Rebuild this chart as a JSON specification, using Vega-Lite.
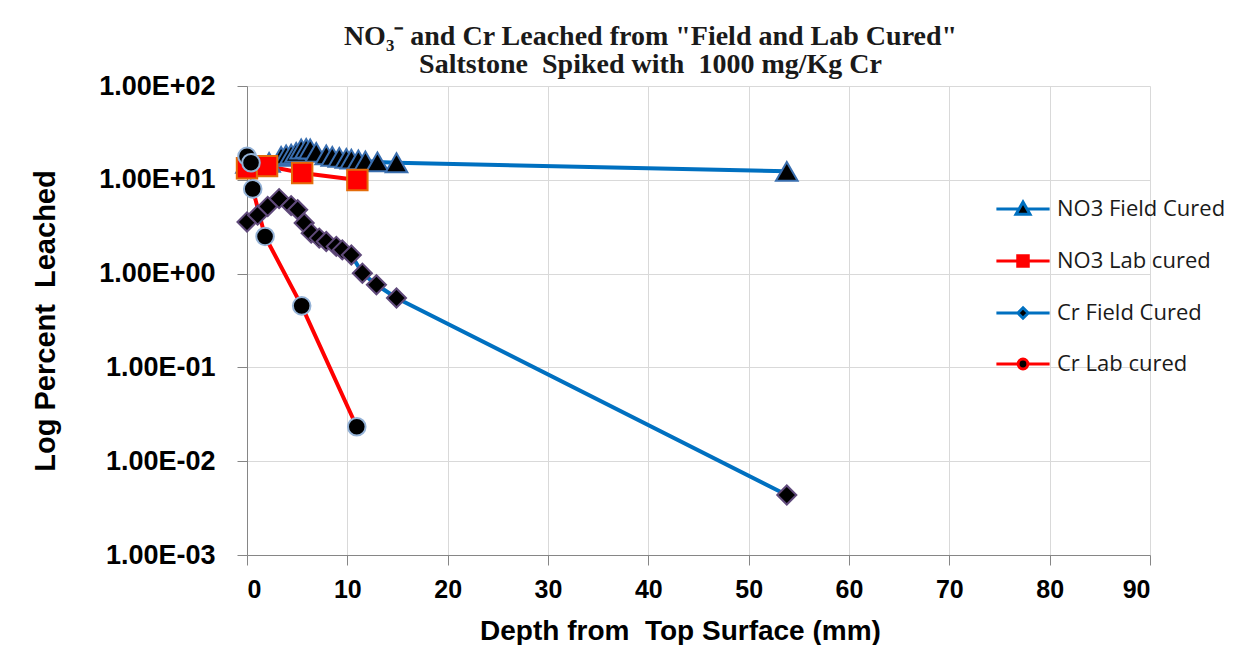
{
  "$schema": "https://vega.github.io/schema/vega-lite/v6.json",
  "autosize": "none",
  "width": 903,
  "height": 469,
  "padding": {"left": 247, "top": 86, "right": 98, "bottom": 90},
  "background": "white",
  "config": {
    "view": {"stroke": null},
    "axis": {
      "domainColor": "#868686",
      "tickColor": "#868686",
      "gridColor": "#D9D9D9",
      "gridWidth": 1,
      "tickSize": 10,
      "labelColor": "black",
      "titleColor": "black",
      "labelFont": "Liberation Sans",
      "titleFont": "Liberation Sans",
      "labelFontWeight": "bold",
      "titleFontWeight": "bold"
    },
    "legend": {
      "orient": "none",
      "legendX": 765,
      "legendY": 112,
      "padding": 0,
      "labelFont": "Open Sans",
      "labelFontSize": 22,
      "labelColor": "#1a1a1a",
      "labelLimit": 400,
      "symbolSize": 196,
      "symbolStrokeWidth": 3,
      "labelOffset": 23,
      "rowPadding": 28
    }
  },
  "title": {
    "text": ["NO₃⁻ and Cr Leached from \"Field and Lab Cured\"", "Saltstone\u00a0 Spiked with\u00a0 1000 mg/Kg Cr"],
    "font": "Liberation Serif",
    "fontSize": 28,
    "fontWeight": "bold",
    "color": "#1a1a1a",
    "lineHeight": 28,
    "anchor": "middle",
    "dx": -48,
    "offset": -7
  },
  "data": {
    "values": [
      {"series": "NO3 Field Cured", "depth": 0, "pct": 15.0},
      {"series": "NO3 Field Cured", "depth": 2.2, "pct": 15.3},
      {"series": "NO3 Field Cured", "depth": 3.4, "pct": 17.8},
      {"series": "NO3 Field Cured", "depth": 3.9, "pct": 18.4},
      {"series": "NO3 Field Cured", "depth": 4.4, "pct": 18.8},
      {"series": "NO3 Field Cured", "depth": 4.9, "pct": 19.6},
      {"series": "NO3 Field Cured", "depth": 5.4, "pct": 21.3},
      {"series": "NO3 Field Cured", "depth": 5.9, "pct": 21.6},
      {"series": "NO3 Field Cured", "depth": 6.3, "pct": 21.3},
      {"series": "NO3 Field Cured", "depth": 6.9, "pct": 19.6},
      {"series": "NO3 Field Cured", "depth": 7.9, "pct": 18.4},
      {"series": "NO3 Field Cured", "depth": 8.5, "pct": 17.8},
      {"series": "NO3 Field Cured", "depth": 9.2, "pct": 17.3},
      {"series": "NO3 Field Cured", "depth": 9.9, "pct": 16.9},
      {"series": "NO3 Field Cured", "depth": 10.4, "pct": 16.6},
      {"series": "NO3 Field Cured", "depth": 11.1, "pct": 16.3},
      {"series": "NO3 Field Cured", "depth": 11.8, "pct": 15.9},
      {"series": "NO3 Field Cured", "depth": 13.0, "pct": 15.5},
      {"series": "NO3 Field Cured", "depth": 14.9, "pct": 15.2},
      {"series": "NO3 Field Cured", "depth": 53.8, "pct": 12.3},
      {"series": "NO3 Lab cured", "depth": 0, "pct": 13.3},
      {"series": "NO3 Lab cured", "depth": 2.0, "pct": 14.0},
      {"series": "NO3 Lab cured", "depth": 5.5, "pct": 11.8},
      {"series": "NO3 Lab cured", "depth": 11.0, "pct": 9.95},
      {"series": "Cr Field Cured", "depth": 0, "pct": 3.55},
      {"series": "Cr Field Cured", "depth": 1.06, "pct": 4.2},
      {"series": "Cr Field Cured", "depth": 2.06, "pct": 5.2},
      {"series": "Cr Field Cured", "depth": 3.2, "pct": 6.3},
      {"series": "Cr Field Cured", "depth": 4.4, "pct": 5.3},
      {"series": "Cr Field Cured", "depth": 5.05, "pct": 4.8},
      {"series": "Cr Field Cured", "depth": 5.7, "pct": 3.46},
      {"series": "Cr Field Cured", "depth": 6.4, "pct": 2.7},
      {"series": "Cr Field Cured", "depth": 7.2, "pct": 2.39},
      {"series": "Cr Field Cured", "depth": 7.9, "pct": 2.2},
      {"series": "Cr Field Cured", "depth": 8.9, "pct": 1.95},
      {"series": "Cr Field Cured", "depth": 9.5, "pct": 1.79},
      {"series": "Cr Field Cured", "depth": 10.4, "pct": 1.58},
      {"series": "Cr Field Cured", "depth": 11.5, "pct": 1.01},
      {"series": "Cr Field Cured", "depth": 12.9, "pct": 0.76},
      {"series": "Cr Field Cured", "depth": 14.9, "pct": 0.55},
      {"series": "Cr Field Cured", "depth": 53.8, "pct": 0.00436},
      {"series": "Cr Lab cured", "depth": 0, "pct": 17.8},
      {"series": "Cr Lab cured", "depth": 0.4, "pct": 15.2},
      {"series": "Cr Lab cured", "depth": 0.57, "pct": 8.0},
      {"series": "Cr Lab cured", "depth": 1.8, "pct": 2.49},
      {"series": "Cr Lab cured", "depth": 5.45, "pct": 0.453},
      {"series": "Cr Lab cured", "depth": 10.94, "pct": 0.0233}
    ]
  },
  "encoding": {
    "x": {
      "field": "depth",
      "type": "quantitative",
      "scale": {"domain": [0, 90], "nice": false},
      "axis": {
        "values": [0, 10, 20, 30, 40, 50, 60, 70, 80, 90],
        "title": "Depth from\u00a0 Top Surface (mm)",
        "labelFontSize": 25,
        "labelPadding": 12,
        "titleFontSize": 28,
        "titlePadding": 15,
        "titleX": 433
      }
    },
    "y": {
      "field": "pct",
      "type": "quantitative",
      "scale": {"type": "log", "domain": [0.001, 100], "nice": false},
      "axis": {
        "values": [0.001, 0.01, 0.1, 1, 10, 100],
        "labelExpr": "'1.00E' + (round(log(datum.value)/LN10) >= 0 ? '+' : '-') + '0' + abs(round(log(datum.value)/LN10))",
        "labelFontSize": 27,
        "labelPadding": 22,
        "title": "Log Percent\u00a0 Leached",
        "titleFontSize": 29,
        "titlePadding": 38
      }
    }
  },
  "layer": [
    {
      "mark": {"type": "line", "strokeWidth": 4},
      "encoding": {
        "color": {
          "field": "series",
          "type": "nominal",
          "scale": {"domain": ["NO3 Field Cured", "NO3 Lab cured", "Cr Field Cured", "Cr Lab cured"], "range": ["#0070C0", "#FF0000", "#0070C0", "#FF0000"]},
          "legend": null
        }
      }
    },
    {
      "mark": {"type": "point", "filled": true, "opacity": 1, "strokeWidth": 2},
      "encoding": {
        "shape": {
          "field": "series",
          "type": "nominal",
          "scale": {"domain": ["NO3 Field Cured", "NO3 Lab cured", "Cr Field Cured", "Cr Lab cured"], "range": ["triangle-up", "square", "diamond", "circle"]},
          "legend": null
        },
        "fill": {
          "field": "series",
          "type": "nominal",
          "scale": {"domain": ["NO3 Field Cured", "NO3 Lab cured", "Cr Field Cured", "Cr Lab cured"], "range": ["#000000", "#FF0000", "#000000", "#000000"]},
          "legend": null
        },
        "stroke": {
          "field": "series",
          "type": "nominal",
          "scale": {"domain": ["NO3 Field Cured", "NO3 Lab cured", "Cr Field Cured", "Cr Lab cured"], "range": ["#3A6FB0", "#E46C0A", "#604A7B", "#95B3D7"]},
          "legend": null
        },
        "size": {
          "field": "series",
          "type": "nominal",
          "scale": {"domain": ["NO3 Field Cured", "NO3 Lab cured", "Cr Field Cured", "Cr Lab cured"], "range": [470, 310, 240, 280]},
          "legend": null
        }
      }
    },
    {
      "transform": [{"filter": "false"}],
      "mark": {"type": "point", "filled": true, "opacity": 1, "strokeWidth": 3},
      "encoding": {
        "shape": {
          "field": "series",
          "type": "nominal",
          "title": null,
          "scale": {"domain": ["NO3 Field Cured", "NO3 Lab cured", "Cr Field Cured", "Cr Lab cured"], "range": [
            "M-3.8,0H-0.57M0.57,0H3.8M0,-1L1,0.75L-1,0.75Z",
            "M-3.8,0H-0.75M0.75,0H3.8M-0.75,-0.75H0.75V0.75H-0.75Z",
            "M-3.8,0H-0.75M0.75,0H3.8M0,-0.75L0.75,0L0,0.75L-0.75,0Z",
            "M-3.8,0H-0.7M0.7,0H3.8M0.7,0A0.7,0.7,0,1,1,-0.7,0A0.7,0.7,0,1,1,0.7,0Z"
          ]}
        },
        "fill": {
          "field": "series",
          "type": "nominal",
          "title": null,
          "scale": {"domain": ["NO3 Field Cured", "NO3 Lab cured", "Cr Field Cured", "Cr Lab cured"], "range": ["#000000", "#FF0000", "#000000", "#000000"]}
        },
        "stroke": {
          "field": "series",
          "type": "nominal",
          "title": null,
          "scale": {"domain": ["NO3 Field Cured", "NO3 Lab cured", "Cr Field Cured", "Cr Lab cured"], "range": ["#0070C0", "#FF0000", "#0070C0", "#FF0000"]}
        }
      }
    }
  ],
  "resolve": {"scale": {"shape": "independent", "fill": "independent", "stroke": "independent", "color": "independent", "size": "independent"}}
}
